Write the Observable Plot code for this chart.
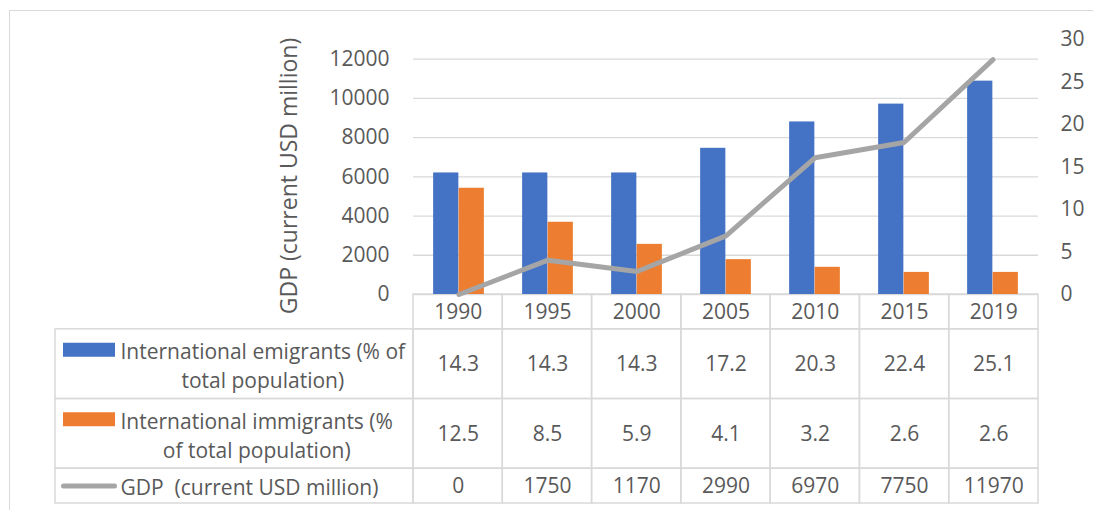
<!DOCTYPE html>
<html>
<head>
<meta charset="utf-8">
<script src="https://cdn.jsdelivr.net/npm/d3@7"></script>
<script src="https://cdn.jsdelivr.net/npm/@observablehq/plot@0.6"></script>
<style>
  html, body { margin: 0; padding: 0; background: #fff; }
  #chart { position: relative; width: 1093px; height: 510px; overflow: hidden; font-family: "Open Sans", sans-serif; }
  #chart .frame { position: absolute; left: 9px; top: 10px; width: 1100px; height: 520px; border: 1.5px solid #d9d9d9; box-sizing: border-box; }
  #chart svg { position: absolute; left: 0; top: 0; }
</style>
</head>
<body>
<div id="chart"><div class="frame"></div></div>
<script>
// Series, one value per year
const years = ["1990", "1995", "2000", "2005", "2010", "2015", "2019"];
const emigrants = [14.3, 14.3, 14.3, 17.2, 20.3, 22.4, 25.1];   // % of total population
const immigrants = [12.5, 8.5, 5.9, 4.1, 3.2, 2.6, 2.6];        // % of total population
const gdp = [0, 1750, 1170, 2990, 6970, 7750, 11970];           // current USD million

// Axis ticks
const gdpTicks = [0, 2000, 4000, 6000, 8000, 10000, 12000];
const pctTicks = [0, 5, 10, 15, 20, 25, 30];
const gdpMax = 13000;
const pctMax = 30;

// Series names and colours
const emigLabel = "International emigrants (% of\ntotal population)";
const immigLabel = "International immigrants (%\nof total population)";
const gdpLabel = "GDP\u00a0 (current USD million)";
const yTitle = "GDP (current USD million)";
const blue = "#4472c4", orange = "#ed7d31", grey = "#a5a5a5", ink = "#595959", rule = "#d9d9d9";

// Layout
const W = 1093, H = 510;
const plotLeft = 413, plotRight = 1038, plotTop = 39, plotBottom = 294;
const labelLeft = 55, tableBottom = 503;
const fontSize = 21;
const baseStyle = {
  fontFamily: '"Open Sans", sans-serif',
  fontSize: fontSize + "px",
  color: ink,
  background: "transparent",
  overflow: "visible"
};

const k = gdpMax / pctMax; // percent -> GDP units on the shared vertical scale
const data = years.map((year, i) => ({year, emig: emigrants[i], immig: immigrants[i], gdp: gdp[i]}));
const bw = (plotRight - plotLeft) / years.length; // width of one category
const barW = bw / 3.5;                             // two bars, 150% gap
const outer = 0.75 * barW;

const chart = Plot.plot({
  width: W, height: H,
  marginLeft: plotLeft, marginRight: W - plotRight,
  marginTop: plotTop, marginBottom: H - plotBottom,
  style: baseStyle,
  x: {type: "band", domain: years, padding: 0, axis: null},
  y: {domain: [0, gdpMax], axis: null},
  marks: [
    Plot.gridY(gdpTicks, {stroke: rule, strokeOpacity: 1, strokeWidth: 1.3}),
    Plot.axisY(gdpTicks, {anchor: "left", tickSize: 0, tickPadding: 24, label: null, fill: ink,
      tickFormat: d => String(d)}),
    Plot.axisY(pctTicks.map(v => v * k), {anchor: "right", tickSize: 0, tickPadding: 22, label: null, fill: ink,
      tickFormat: d => String(Math.round(d / k))}),
    Plot.text([yTitle], {frameAnchor: "left", textAnchor: "middle", rotate: -90, dx: -124, dy: 9,
      fontSize: 23, fill: ink}),
    Plot.barY(data, {x: "year", y: d => d.emig * k, fill: blue, insetLeft: outer, insetRight: bw / 2}),
    Plot.barY(data, {x: "year", y: d => d.immig * k, fill: orange, insetLeft: bw / 2, insetRight: outer}),
    Plot.line(data, {x: "year", y: "gdp", stroke: grey, strokeWidth: 5, strokeLinecap: "round", strokeLinejoin: "round"})
  ]
});

// Data table underneath: label column + one column per year
const L = (plotLeft - labelLeft) / bw;   // label column width, in column units
const u = px => px / bw;                 // pixel offset -> column units
const rows = [
  {y1: 0, y2: 1, values: years},
  {y1: 1, y2: 3, values: emigrants.map(v => v.toFixed(1)), label: emigLabel, color: blue, lines: 2},
  {y1: 3, y2: 5, values: immigrants.map(v => v.toFixed(1)), label: immigLabel, color: orange, lines: 2},
  {y1: 5, y2: 6, values: gdp.map(String), label: gdpLabel, color: grey, lines: 1}
];
const cells = [];
rows.forEach(r => {
  r.values.forEach((text, i) => cells.push({x1: i, x2: i + 1, y1: r.y1, y2: r.y2, text}));
  if (r.label) cells.push({x1: -L, x2: 0, y1: r.y1, y2: r.y2, text: ""});
});

const ctx = document.createElement("canvas").getContext("2d");
ctx.font = `${fontSize}px "Open Sans"`;
const lineH = 1.38;
const textStart = 65; // label text block starts after the key
const labelRows = rows.filter(r => r.label).map(r => {
  const w = Math.max(...r.label.split("\n").map(s => ctx.measureText(s).width));
  return {...r, cx: -L + u(textStart + w / 2), cy: (r.y1 + r.y2) / 2};
});
const twoLine = labelRows.filter(r => r.lines === 2);
const oneLine = labelRows.filter(r => r.lines === 1);
const halfLine = lineH * fontSize / 2;

const table = Plot.plot({
  width: W, height: H,
  marginLeft: labelLeft, marginRight: W - plotRight,
  marginTop: plotBottom, marginBottom: H - tableBottom,
  style: baseStyle,
  x: {domain: [-L, years.length], axis: null},
  y: {domain: [0, 6], reverse: true, axis: null},
  marks: [
    Plot.rect(cells, {x1: "x1", x2: "x2", y1: "y1", y2: "y2", fill: "none", stroke: rule, strokeWidth: 1.5}),
    Plot.text(cells, {x: d => (d.x1 + d.x2) / 2, y: d => (d.y1 + d.y2) / 2, text: "text", fill: ink}),
    // legend keys
    Plot.ruleY(twoLine, {y: "cy", x1: () => -L, x2: () => 0, dy: -halfLine, stroke: "color",
      strokeWidth: 14, insetLeft: 8, insetRight: 298}),
    Plot.ruleY(oneLine, {y: "cy", x1: () => -L, x2: () => 0, stroke: "color",
      strokeWidth: 5, strokeLinecap: "round", insetLeft: 8.5, insetRight: 298.5}),
    Plot.text(labelRows, {x: "cx", y: "cy", text: "label", textAnchor: "middle", lineHeight: lineH, fill: ink})
  ]
});

const root = document.getElementById("chart");
root.appendChild(table);
root.appendChild(chart);
</script>
</body>
</html>
